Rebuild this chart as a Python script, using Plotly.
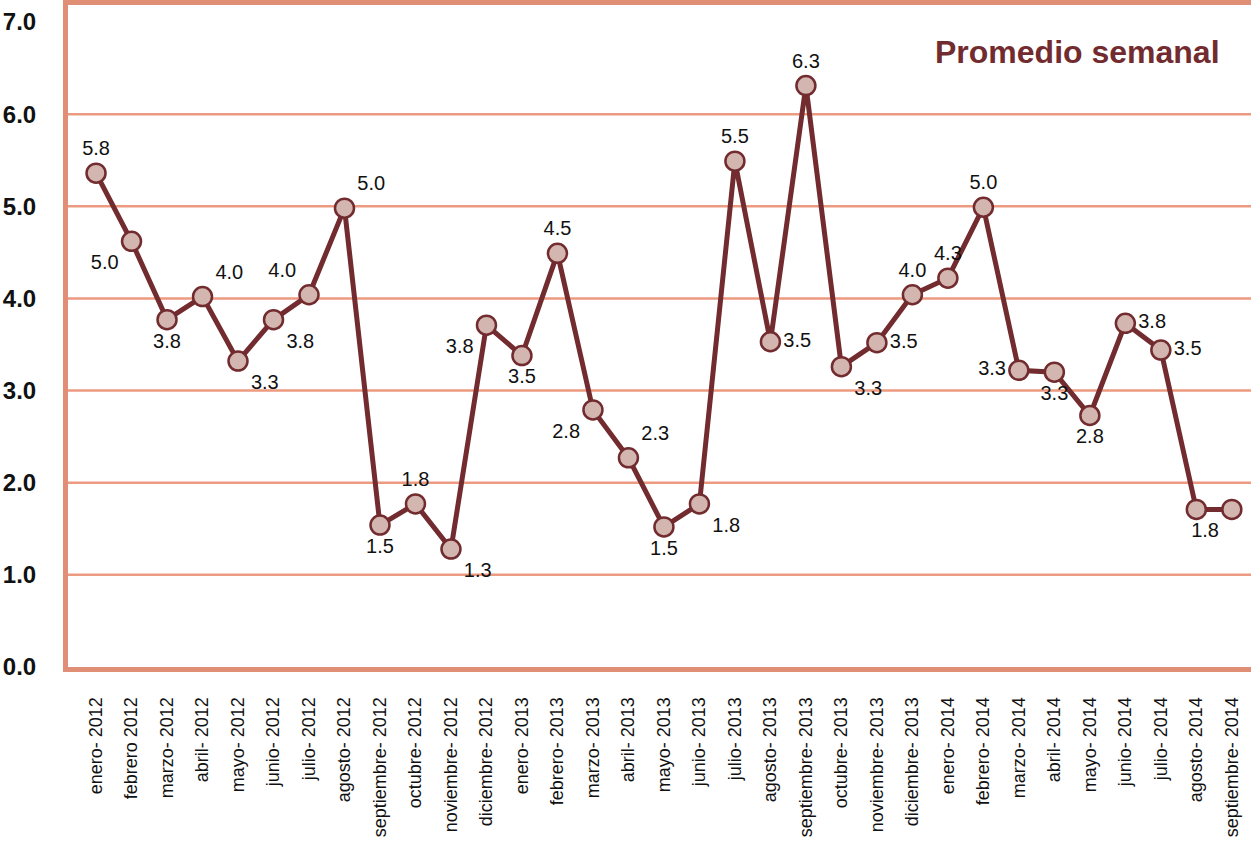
import plotly.graph_objects as go

# colours
MAROON = "#722B2E"
MARKER_FILL = "#D2B6AF"
SALMON = "#EC9A80"
AXIS = "#E08E76"

MONTHS = [
    "enero- 2012", "febrero 2012", "marzo- 2012", "abril- 2012", "mayo- 2012",
    "junio- 2012", "julio- 2012", "agosto- 2012", "septiembre- 2012", "octubre- 2012",
    "noviembre- 2012", "diciembre- 2012", "enero- 2013", "febrero- 2013", "marzo- 2013",
    "abril- 2013", "mayo- 2013", "junio- 2013", "julio- 2013", "agosto- 2013",
    "septiembre- 2013", "octubre- 2013", "noviembre- 2013", "diciembre- 2013",
    "enero- 2014", "febrero- 2014", "marzo- 2014", "abril- 2014", "mayo- 2014",
    "junio- 2014", "julio- 2014", "agosto- 2014", "septiembre- 2014",
]

# plotted positions (as drawn) and the printed labels (they differ in the source)
VALUES = [
    5.36, 4.62, 3.77, 4.02, 3.32, 3.77, 4.04, 4.98, 1.54, 1.77, 1.28,
    3.71, 3.38, 4.49, 2.79, 2.27, 1.52, 1.77, 5.49, 3.53, 6.31, 3.26,
    3.52, 4.04, 4.22, 4.99, 3.22, 3.20, 2.73, 3.73, 3.44, 1.71, 1.71,
]
LABELS = [
    "5.8", "5.0", "3.8", "4.0", "3.3", "3.8", "4.0", "5.0", "1.5", "1.8", "1.3",
    "3.8", "3.5", "4.5", "2.8", "2.3", "1.5", "1.8", "5.5", "3.5", "6.3", "3.3",
    "3.5", "4.0", "4.3", "5.0", "3.3", "3.3", "2.8", "3.8", "3.5", "", "1.8",
]
LABEL_POS = [
    "top center", "bottom left", "bottom center", "top right", "bottom right",
    "bottom right", "top left", "top right", "bottom center", "top center",
    "bottom right", "bottom left", "bottom center", "top center", "bottom left",
    "top right", "bottom center", "bottom right", "top center", "middle right",
    "top center", "bottom right", "middle right", "top center", "top center",
    "top center", "middle left", "bottom center", "bottom center", "middle right",
    "middle right", "bottom center", "bottom left",
]

Y_TICKS = [0, 1, 2, 3, 4, 5, 6, 7]
GRID_LINES = [1, 2, 3, 4, 5, 6]

x_idx = list(range(len(MONTHS)))

fig = go.Figure(go.Scatter(
    x=x_idx,
    y=VALUES,
    mode="lines+markers+text",
    text=LABELS,
    textposition=LABEL_POS,
    textfont={"family": "Liberation Sans, Arial", "size": 20, "color": "#111111"},
    line={"color": MAROON, "width": 5},
    marker={"size": 19, "color": MARKER_FILL, "line": {"color": MAROON, "width": 2.5}},
    cliponaxis=False,
    showlegend=False,
))

for g in GRID_LINES:
    fig.add_shape(type="line", xref="paper", x0=0, x1=1, yref="y", y0=g, y1=g,
                  line={"color": SALMON, "width": 2.5}, layer="below")

fig.add_annotation(
    text="<b>Promedio semanal</b>", xref="paper", yref="paper", x=0.9755, y=0.929,
    xanchor="right", yanchor="middle", showarrow=False,
    font={"family": "Liberation Sans, Arial", "size": 32, "color": MAROON},
)

fig.update_layout(
    width=1251,
    height=845,
    paper_bgcolor="white",
    plot_bgcolor="white",
    margin={"l": 68, "r": 0, "t": 5, "b": 178},
    font={"family": "Liberation Sans, Arial", "color": "#111111"},
)
fig.update_xaxes(
    range=[-0.79, 32.54],
    tickvals=x_idx,
    ticktext=MONTHS,
    tickangle=-90,
    tickfont={"size": 18},
    ticklabelstandoff=18,
    showgrid=False,
    zeroline=False,
    showline=True,
    mirror=True,
    linecolor=AXIS,
    linewidth=5,
    automargin=False,
)
fig.update_yaxes(
    range=[0, 7.185],
    tickvals=Y_TICKS,
    ticktext=[f"{v:.1f}" for v in Y_TICKS],
    tickfont={"size": 24, "family": "Liberation Sans, Arial", "weight": "bold"},
    ticklabelstandoff=22,
    showgrid=False,
    zeroline=False,
    showline=True,
    linecolor=AXIS,
    linewidth=5,
    automargin=False,
)

# page body has a default 8px margin; drop it so the figure sits at the corner
fig.write_html(
    "out.html",
    config={"displayModeBar": False},
    post_script="document.body.style.margin='0';",
)
